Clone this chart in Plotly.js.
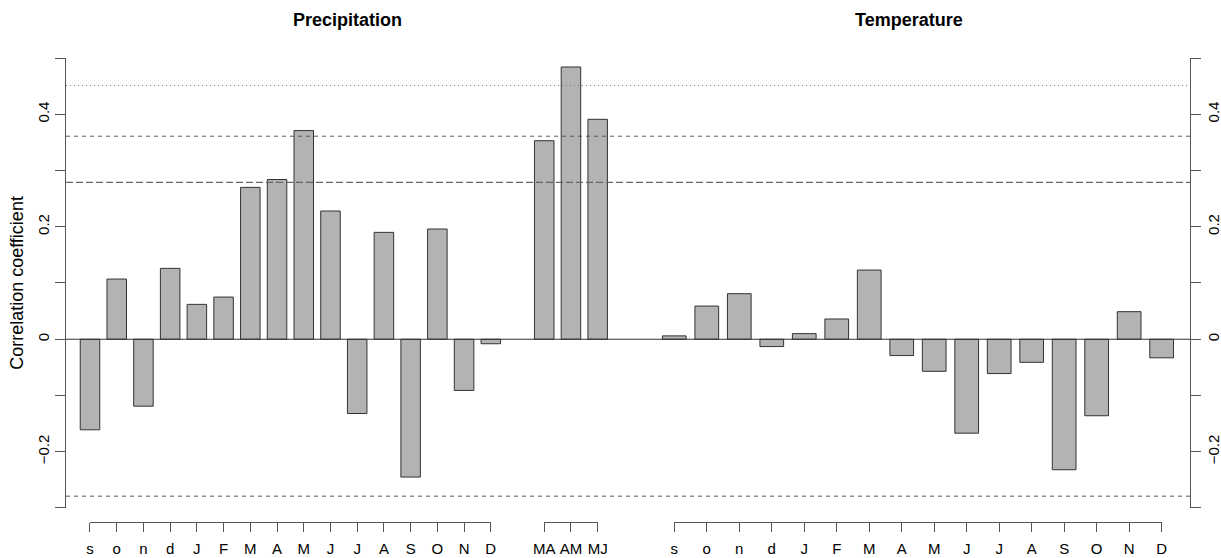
<!DOCTYPE html>
<html>
<head>
<meta charset="utf-8">
<script src="https://cdn.plot.ly/plotly-3.0.1.min.js"></script>
<style>html,body{margin:0;padding:0;background:#fff}#chart{width:1221px;height:558px}</style>
</head>
<body>
<div id="chart"></div>
<script>
// ---- data ----
const precipMonths = ['s','o','n','d','J','F','M','A','M','J','J','A','S','O','N','D'];
const precipValues = [-0.161, 0.107, -0.119, 0.126, 0.062, 0.075, 0.270, 0.284, 0.371, 0.228, -0.132, 0.190, -0.245, 0.196, -0.091, -0.008];
const seasonLabels = ['MA','AM','MJ'];
const seasonValues = [0.353, 0.484, 0.391];
const tempMonths = ['s','o','n','d','J','F','M','A','M','J','J','A','S','O','N','D'];
const tempValues = [0.006, 0.059, 0.081, -0.013, 0.010, 0.036, 0.123, -0.029, -0.057, -0.167, -0.061, -0.041, -0.232, -0.136, 0.049, -0.033];
const thresholds = [0.279, 0.361, 0.451, -0.279];
const yTicks = [-0.3, -0.2, -0.1, 0, 0.1, 0.2, 0.3, 0.4, 0.5];
const yTickText = ['', '\u22120.2', '', '0', '', '0.2', '', '0.4', ''];
const panelTitles = ['Precipitation', 'Temperature'];
const yTitle = 'Correlation coefficient';

// ---- positions (derived from indices) ----
const precipPos = precipMonths.map((_, i) => i + 1);
const seasonPos = seasonLabels.map((_, i) => precipMonths.length + 2 + i);
const tempPos = tempMonths.map((_, i) => i + 1);

const xRange1 = [0.102, 21.135];
const xRange2 = [-0.425, 16.873];
function dom(range, d0, d1, a, b) {
  const f = v => d0 + (v - range[0]) / (range[1] - range[0]) * (d1 - d0);
  return [f(a), f(b)];
}

const FONT = 'Liberation Sans, Arial, Helvetica, sans-serif';
const barStyle = { color: '#b3b3b3', line: { color: '#333', width: 1 } };
const BW = 0.73;

const traces = [
  { type: 'bar', x: precipPos.concat(seasonPos), y: precipValues.concat(seasonValues),
    width: BW, marker: barStyle, xaxis: 'x', yaxis: 'y', hoverinfo: 'y', showlegend: false },
  { type: 'bar', x: tempPos, y: tempValues,
    width: BW, marker: barStyle, xaxis: 'x2', yaxis: 'y2', hoverinfo: 'y', showlegend: false },
  { type: 'scatter', mode: 'markers', x: precipPos, y: precipPos.map(() => null), xaxis: 'x3', yaxis: 'y', hoverinfo: 'skip', showlegend: false },
  { type: 'scatter', mode: 'markers', x: seasonPos, y: seasonPos.map(() => null), xaxis: 'x4', yaxis: 'y', hoverinfo: 'skip', showlegend: false },
  { type: 'scatter', mode: 'markers', x: tempPos, y: tempPos.map(() => null), xaxis: 'x5', yaxis: 'y', hoverinfo: 'skip', showlegend: false }
];

const hidden = { showline: false, showticklabels: false, ticks: '', showgrid: false, zeroline: false, fixedrange: true };
const tickAx = (range, domain, vals, text) => ({
  anchor: 'free', position: 0, domain: domain, range: range,
  tickmode: 'array', tickvals: vals, ticktext: text,
  ticks: 'outside', ticklen: 9, tickwidth: 1, tickcolor: '#555',
  showline: true, linecolor: '#555', linewidth: 1,
  showgrid: false, zeroline: false, ticklabelstandoff: 4,
  tickfont: { family: FONT, size: 15, color: '#000' }
});
const yAx = (side, anchor, title, standoff) => ({
  anchor: anchor, side: side, domain: [0.0302, 1], range: [-0.3, 0.5],
  tickmode: 'array', tickvals: yTicks, ticktext: yTickText, tickangle: -90,
  ticks: 'outside', ticklen: 10, tickwidth: 1, tickcolor: '#555',
  showline: true, linecolor: '#555', linewidth: 1,
  showgrid: false, zeroline: false, ticklabelstandoff: standoff,
  tickfont: { family: FONT, size: 15, color: '#000' },
  title: title ? { text: title, font: { family: FONT, size: 18, color: '#000' }, standoff: 6 } : undefined
});

const dashes = ['7px,3px', '4px,4px', '1px,3px', '4px,4px'];
const dashColors = ['#666', '#555', '#777', '#555'];
const dashWidths = [1.3, 1, 1, 1];
const shapes = thresholds.map((t, i) => ({
  type: 'line', xref: 'paper', yref: 'y', x0: 0, x1: 1, y0: t, y1: t,
  line: { color: dashColors[i], width: dashWidths[i], dash: dashes[i] }
}));
shapes.push({ type: 'line', xref: 'paper', yref: 'y', x0: 0, x1: 1, y0: 0, y1: 0,
  line: { color: '#333', width: 1 } });

const layout = {
  width: 1221, height: 558,
  margin: { l: 66, r: 31, t: 58, b: 36, pad: 0 },
  paper_bgcolor: '#fff', plot_bgcolor: 'rgba(0,0,0,0)',
  showlegend: false, bargap: 0,
  xaxis: Object.assign({ domain: [0, 0.5], range: xRange1, anchor: 'y' }, hidden),
  xaxis2: Object.assign({ domain: [0.5, 1], range: xRange2, anchor: 'y2' }, hidden),
  xaxis3: tickAx([1, precipMonths.length], dom(xRange1, 0, 0.5, 1, precipMonths.length), precipPos, precipMonths),
  xaxis4: tickAx([seasonPos[0], seasonPos[seasonPos.length - 1]], dom(xRange1, 0, 0.5, seasonPos[0], seasonPos[seasonPos.length - 1]), seasonPos, seasonLabels),
  xaxis5: tickAx([1, tempMonths.length], dom(xRange2, 0.5, 1, 1, tempMonths.length), tempPos, tempMonths),
  yaxis: yAx('left', 'x', yTitle, 0),
  yaxis2: yAx('right', 'x2', null, 0),
  shapes: shapes,
  annotations: panelTitles.map((t, i) => ({
    text: '<b>' + t + '</b>', xref: 'paper', yref: 'paper', x: 0.25 + 0.5 * i, y: 1.082,
    xanchor: 'center', yanchor: 'middle', showarrow: false,
    font: { family: FONT, size: 18, color: '#000' }
  }))
};

Plotly.newPlot('chart', traces, layout, { staticPlot: true, displayModeBar: false });
</script>
</body>
</html>
